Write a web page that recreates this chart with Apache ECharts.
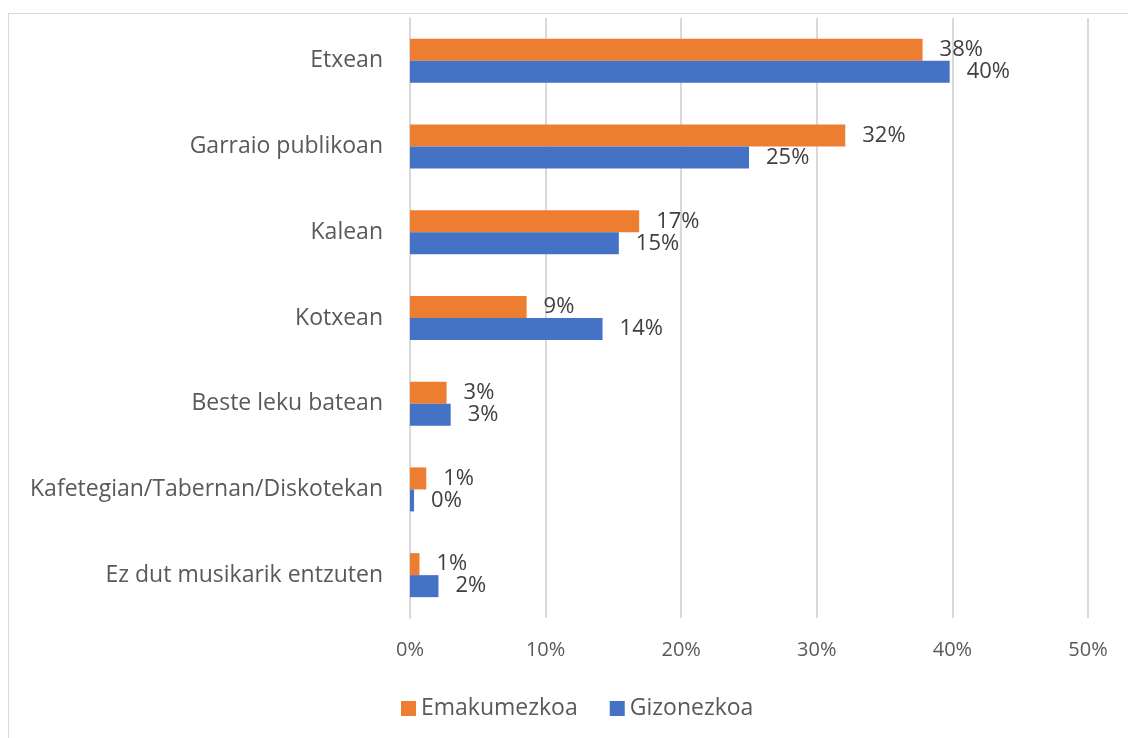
<!DOCTYPE html>
<html>
<head>
<meta charset="utf-8">
<script src="https://cdn.jsdelivr.net/npm/echarts@6/dist/echarts.min.js"></script>
<style>
  html, body { margin: 0; padding: 0; background: #fff; }
  #chart { width: 1128px; height: 738px; }
  .frame {
    position: absolute; left: 8px; top: 13px; width: 1200px; height: 800px;
    border: 1px solid #d9d9d9; box-sizing: border-box; pointer-events: none;
  }
</style>
</head>
<body>
<div id="chart"></div>
<div class="frame"></div>
<script>
// Datuak
const categories = [
  "Etxean",
  "Garraio publikoan",
  "Kalean",
  "Kotxean",
  "Beste leku batean",
  "Kafetegian/Tabernan/Diskotekan",
  "Ez dut musikarik entzuten",
];
const emakumezkoa = [37.8, 32.1, 16.9, 8.6, 2.7, 1.2, 0.7];
const gizonezkoa = [39.8, 25.0, 15.4, 14.2, 3.0, 0.3, 2.1];
const seriesNames = ["Emakumezkoa", "Gizonezkoa"];

const fontFamily = "'Open Sans', 'Noto Sans', sans-serif";

const chart = echarts.init(document.getElementById("chart"));
const barLabel = {
  show: true,
  position: "right",
  distance: 17,
  color: "#404040",
  fontSize: 22,
  fontFamily: fontFamily,
  formatter: (p) => Math.round(p.value) + "%",
};
const option = {
  animation: false,
  grid: { left: 410, right: 40, top: 18, bottom: 120 },
  legend: {
    data: seriesNames,
    top: 692,
    left: 396,
    itemWidth: 15,
    itemHeight: 15,
    itemGap: 32,
    icon: "rect",
    textStyle: { color: "#595959", fontSize: 23, fontFamily: fontFamily },
  },
  xAxis: {
    type: "value",
    min: 0,
    max: 50,
    interval: 10,
    axisLine: { show: false },
    axisTick: { show: false },
    splitLine: { lineStyle: { color: "#d9d9d9", width: 2 } },
    axisLabel: {
      formatter: "{value}%",
      color: "#595959",
      fontSize: 20,
      fontFamily: fontFamily,
      margin: 22,
    },
  },
  yAxis: {
    type: "category",
    inverse: true,
    data: categories,
    axisLine: { show: true, lineStyle: { color: "#d9d9d9", width: 2 } },
    axisTick: { show: false },
    axisLabel: {
      color: "#595959",
      fontSize: 23,
      fontFamily: fontFamily,
      margin: 27,
    },
  },
  series: [
    {
      name: seriesNames[0],
      type: "bar",
      data: emakumezkoa,
      barWidth: 22,
      barGap: "0%",
      itemStyle: { color: "#ED7D31" },
      label: barLabel,
    },
    {
      name: seriesNames[1],
      type: "bar",
      data: gizonezkoa,
      barWidth: 22,
      barGap: "0%",
      itemStyle: { color: "#4472C4" },
      label: barLabel,
    },
  ],
};
chart.setOption(option);
window.addEventListener("resize", () => {
  chart.resize();
});
</script>
</body>
</html>
